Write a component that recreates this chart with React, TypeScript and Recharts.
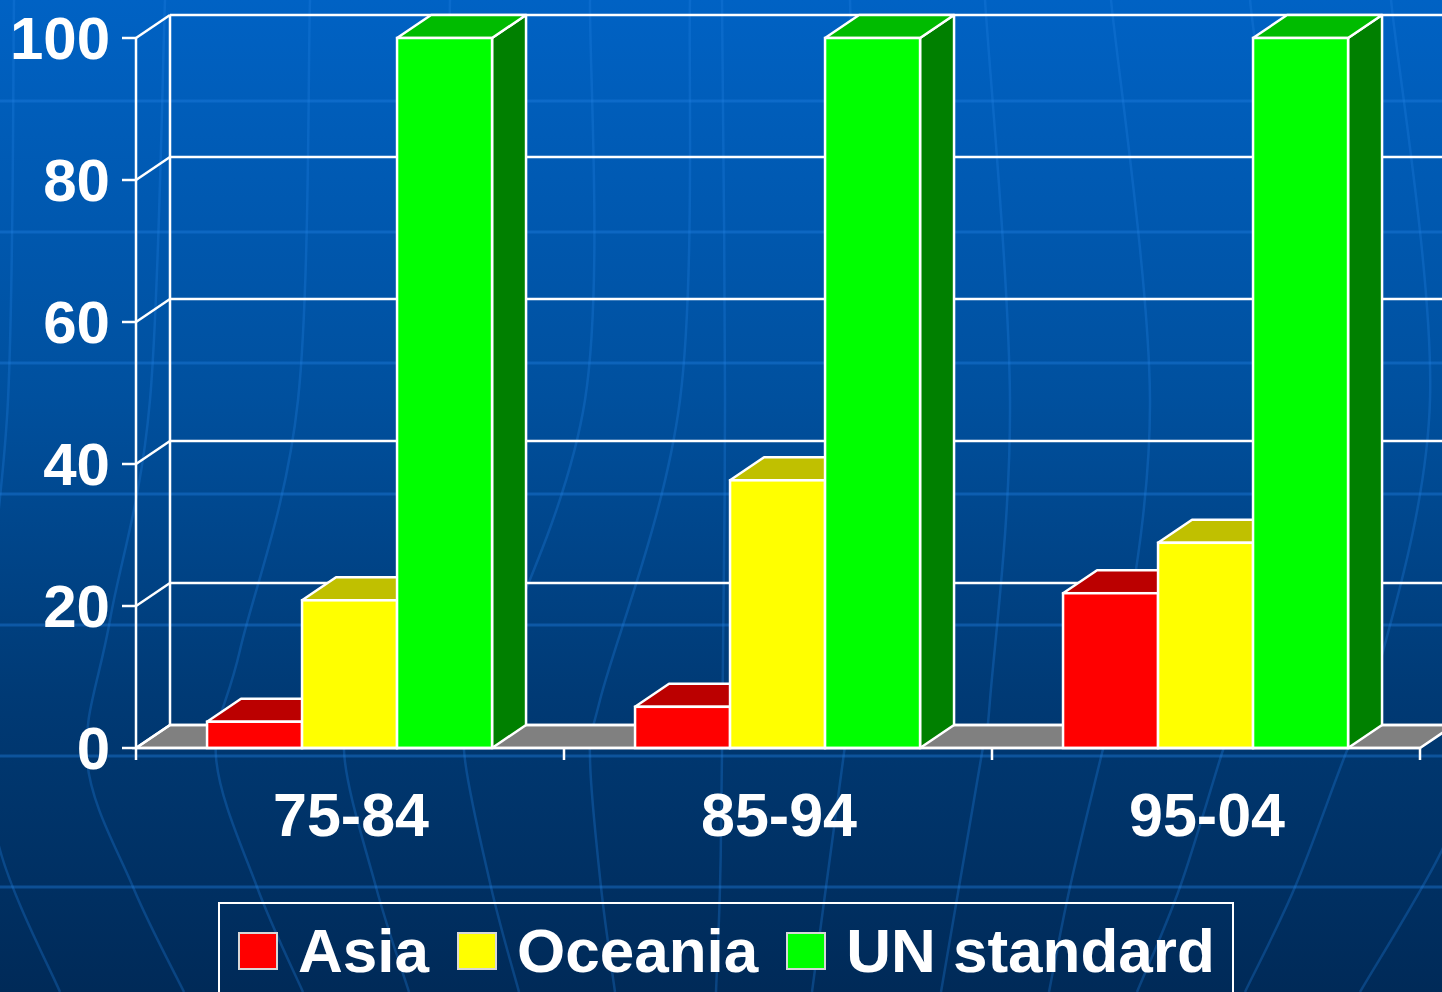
import React from "react";
import { BarChart, Bar, XAxis, YAxis, CartesianGrid, Legend } from "recharts";

// ---- data ----
const periods = ["75-84", "85-94", "95-04"];
const asia = [3.7, 5.8, 21.8];
const oceania = [20.8, 37.7, 28.9];
const unStandard = [100, 100, 100];
const yTicks = [0, 20, 40, 60, 80, 100];

const seriesNames = ["Asia", "Oceania", "UN standard"];

const data = periods.map((p, i) => ({
  period: p,
  asia: asia[i],
  oceania: oceania[i],
  un: unStandard[i],
}));

// ---- styling ----
const W = 1442;
const H = 992;
const DX = 34;
const DY = -23;
const FONT = '"Liberation Sans", Arial, Helvetica, sans-serif';
const WHITE = "#ffffff";
const LW = 2.5;

const colors = {
  asia: { front: "#FF0000", top: "#BB0000", side: "#800000" },
  oceania: { front: "#FFFF00", top: "#C0C000", side: "#808000" },
  un: { front: "#00FF00", top: "#00BB00", side: "#008000" },
};

const make3D = (c: { front: string; top: string; side: string }) => (p: any) => {
  const { x, y, width, height } = p;
  if (x == null || y == null || !width) return <g />;
  const h = Math.max(height, 0);
  return (
    <g>
      <polygon
        points={`${x + width},${y} ${x + width + DX},${y + DY} ${x + width + DX},${y + h + DY} ${x + width},${y + h}`}
        fill={c.side}
        stroke={WHITE}
        strokeWidth={2.5}
        strokeLinejoin="round"
      />
      <polygon
        points={`${x},${y} ${x + DX},${y + DY} ${x + width + DX},${y + DY} ${x + width},${y}`}
        fill={c.top}
        stroke={WHITE}
        strokeWidth={2.5}
        strokeLinejoin="round"
      />
      <rect x={x} y={y} width={width} height={h} fill={c.front} stroke={WHITE} strokeWidth={2.5} />
    </g>
  );
};

const renderBackLine = (p: any) => {
  const pts: number[] = p.horizontalPoints || [];
  const floorY = pts.length ? Math.max(...pts) : p.y + p.height;
  const topY = pts.length ? Math.min(...pts) : p.y;
  const left = p.x != null ? p.x : p.x1;
  const right = p.width != null ? left + p.width : p.x2;
  const yy = p.y1;
  const isFloor = Math.abs(yy - floorY) < 0.5;
  return (
    <g key={p.key ?? `bl-${p.index}`}>
      {isFloor && (
        <polygon
          points={`${left},${yy} ${right},${yy} ${right + DX},${yy + DY} ${left + DX},${yy + DY}`}
          fill="#808080"
          stroke={WHITE}
          strokeWidth={LW}
        />
      )}
      {isFloor && (
        <line x1={left + DX} y1={topY + DY} x2={left + DX} y2={floorY + DY} stroke={WHITE} strokeWidth={LW} />
      )}
      <line x1={left} y1={yy} x2={left + DX} y2={yy + DY} stroke={WHITE} strokeWidth={LW} />
      <line x1={left + DX} y1={yy + DY} x2={right + DX + 60} y2={yy + DY} stroke={WHITE} strokeWidth={LW} />
    </g>
  );
};

const XTick = (p: any) => {
  const { x, y, payload, index, visibleTicksCount, width } = p;
  const band = width / visibleTicksCount;
  const axisY = y - 12;
  return (
    <g>
      <line x1={x - band / 2} y1={axisY} x2={x - band / 2} y2={axisY + 12} stroke={WHITE} strokeWidth={LW} />
      {index === visibleTicksCount - 1 && (
        <line x1={x + band / 2} y1={axisY} x2={x + band / 2} y2={axisY + 12} stroke={WHITE} strokeWidth={LW} />
      )}
      <text x={x + 1} y={y + 76} textAnchor="middle" fill={WHITE} fontSize={61} fontWeight="bold" fontFamily={FONT}>
        {payload.value}
      </text>
    </g>
  );
};

const renderLegend = (props: any) => {
  const payload = props.payload || [];
  return (
    <div
      style={{
        width: 1016,
        height: 100,
        boxSizing: "border-box",
        border: `2px solid ${WHITE}`,
        display: "flex",
        alignItems: "center",
        paddingLeft: 18,
        paddingBottom: 2,
        fontFamily: FONT,
      }}
    >
      {payload.map((e: any, i: number) => (
        <div key={i} style={{ display: "flex", alignItems: "center", marginRight: 28 }}>
          <div
            style={{
              width: 40,
              height: 38,
              boxSizing: "border-box",
              background: e.color,
              border: "2px solid #d8d8d8",
              marginRight: 20,
            }}
          />
          <span style={{ color: WHITE, fontSize: 62, fontWeight: "bold", lineHeight: 1, whiteSpace: "nowrap" }}>
            {e.value}
          </span>
        </div>
      ))}
    </div>
  );
};

// background decoration (globe lines)
const hLines = [101, 232, 363, 494, 625, 756, 887];
const meridians: number[][][] = [
  [[14, 0], [8, 400], [-20, 700], [0, 850], [60, 992]],
  [[165, 0], [150, 400], [110, 620], [87, 760], [133, 887], [184, 992]],
  [[310, 0], [298, 400], [240, 650], [216, 757], [257, 887], [303, 992]],
  [[450, 0], [440, 400], [370, 680], [344, 750], [376, 887], [409, 992]],
  [[590, 0], [585, 400], [480, 700], [464, 750], [491, 887], [519, 992]],
  [[690, 0], [680, 400], [600, 700], [590, 757], [601, 887], [615, 992]],
  [[722, 0], [725, 400], [722, 753], [720, 887], [716, 992]],
  [[850, 0], [860, 400], [850, 700], [844, 753], [826, 887], [812, 992]],
  [[985, 0], [1010, 400], [990, 700], [982, 753], [959, 887], [941, 992]],
  [[1111, 0], [1150, 400], [1115, 700], [1102, 753], [1070, 887], [1049, 992]],
  [[1250, 0], [1290, 400], [1240, 700], [1222, 753], [1180, 887], [1137, 992]],
  [[1391, 0], [1430, 400], [1370, 700], [1346, 753], [1295, 887], [1245, 992]],
  [[1500, 0], [1540, 400], [1470, 760], [1442, 850], [1360, 992]],
];

const smoothPath = (pts: number[][]) => {
  let d = `M${pts[0][0]},${pts[0][1]}`;
  for (let i = 0; i < pts.length - 1; i++) {
    const p0 = pts[i - 1] || pts[i];
    const p1 = pts[i];
    const p2 = pts[i + 1];
    const p3 = pts[i + 2] || p2;
    const c1x = p1[0] + (p2[0] - p0[0]) / 6;
    const c1y = p1[1] + (p2[1] - p0[1]) / 6;
    const c2x = p2[0] - (p3[0] - p1[0]) / 6;
    const c2y = p2[1] - (p3[1] - p1[1]) / 6;
    d += ` C${c1x},${c1y} ${c2x},${c2y} ${p2[0]},${p2[1]}`;
  }
  return d;
};

export default function App() {
  return (
    <div
      style={{
        position: "absolute",
        left: 0,
        top: 0,
        width: W,
        height: H,
        overflow: "hidden",
        background: "linear-gradient(to bottom, #0062C4 0%, #00509E 40%, #003A75 70%, #002A58 100%)",
      }}
    >
      <svg width={W} height={H} style={{ position: "absolute", left: 0, top: 0 }}>
        {hLines.map((y) => (
          <line key={y} x1={0} y1={y} x2={W} y2={y} stroke="#2080E0" strokeOpacity={0.4} strokeWidth={3} />
        ))}
        {meridians.map((m, i) => (
          <path key={i} d={smoothPath(m)} fill="none" stroke="#2080E0" strokeOpacity={0.3} strokeWidth={2.5} />
        ))}
      </svg>
      <div style={{ position: "absolute", left: 0, top: 0 }}>
        <BarChart
          width={W}
          height={H}
          data={data}
          margin={{ top: 38, right: 22, left: 0, bottom: 44 }}
          barCategoryGap="16.6%"
          barGap={0}
        >
          <CartesianGrid horizontal={renderBackLine} vertical={false} stroke={WHITE} />
          <XAxis
            dataKey="period"
            height={100}
            tickSize={12}
            tickMargin={0}
            tickLine={false}
            axisLine={{ stroke: WHITE, strokeWidth: LW }}
            tick={<XTick />}
            interval={0}
          />
          <YAxis
            domain={[0, 100]}
            ticks={yTicks}
            width={136}
            tickSize={14}
            tickMargin={12}
            axisLine={{ stroke: WHITE, strokeWidth: LW }}
            tickLine={{ stroke: WHITE, strokeWidth: LW }}
            tick={{ fill: WHITE, fontSize: 60, fontWeight: "bold", fontFamily: FONT }}
          />
          <Legend
            content={renderLegend}
            verticalAlign="bottom"
            wrapperStyle={{ left: 218, top: 902, width: 1016, height: 100 }}
          />
          <Bar dataKey="asia" name={seriesNames[0]} fill={colors.asia.front} shape={make3D(colors.asia)} isAnimationActive={false} />
          <Bar dataKey="oceania" name={seriesNames[1]} fill={colors.oceania.front} shape={make3D(colors.oceania)} isAnimationActive={false} />
          <Bar dataKey="un" name={seriesNames[2]} fill={colors.un.front} shape={make3D(colors.un)} isAnimationActive={false} />
        </BarChart>
      </div>
    </div>
  );
}
